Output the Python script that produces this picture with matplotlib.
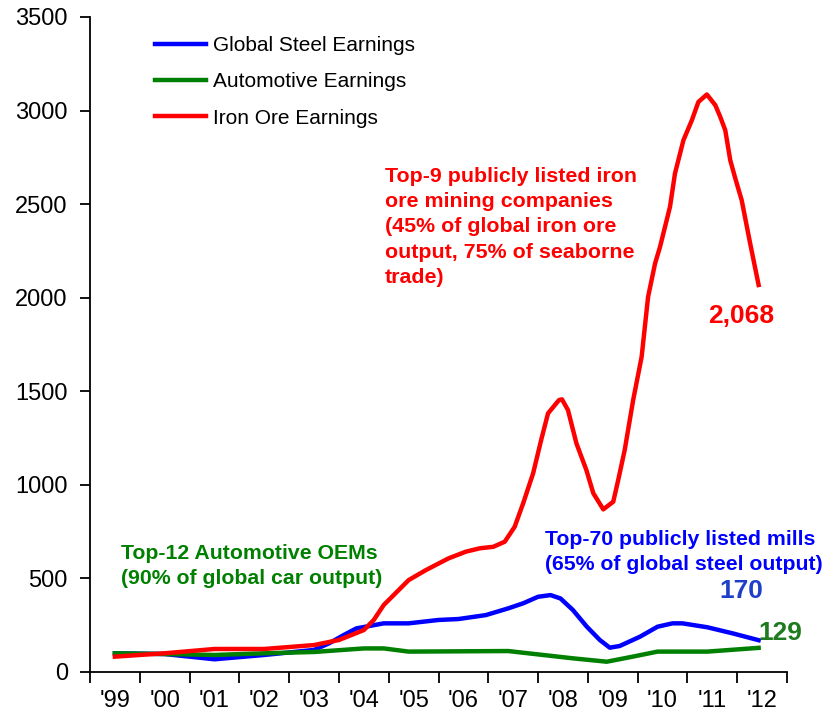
import matplotlib
matplotlib.use("Agg")
import matplotlib.pyplot as plt
from matplotlib.ticker import MultipleLocator, FixedLocator

plt.rcParams["font.family"] = ["Liberation Sans", "DejaVu Sans"]

# Time axis in fractional years (1999.5 = middle of 1999)
steel_t = [1999.5, 2000.5, 2001.5, 2002.5, 2003.5, 2003.8, 2004.1, 2004.35, 2004.9,
           2005.4, 2006.0, 2006.4, 2006.95, 2007.4, 2007.7, 2008.0, 2008.25, 2008.45,
           2008.7, 2008.98, 2009.24, 2009.44, 2009.64, 2010.05, 2010.4, 2010.7,
           2010.9, 2011.4, 2011.9, 2012.43]
steel_v = [100, 96, 68, 91, 118, 153, 198, 233, 260,
           260, 278, 283, 304, 340, 367, 402, 411, 393,
           331, 242, 171, 130, 139, 189, 242, 260,
           260, 239, 207, 170]

auto_t = [1999.5, 2000.5, 2001.5, 2002.5, 2003.5, 2004.5, 2004.9, 2005.4, 2007.4,
          2008.0, 2008.7, 2009.38, 2009.9, 2010.4, 2011.4, 2012.43]
auto_v = [100, 96, 91, 100, 107, 126, 126, 109, 112,
          94, 73, 55, 82, 109, 109, 129]

ore_t = [1999.5, 2000.5, 2001.5, 2002.5, 2003.5, 2004.0, 2004.5, 2004.7, 2004.9,
         2005.4, 2005.75, 2006.2, 2006.55, 2006.83, 2007.1, 2007.33, 2007.53, 2007.7,
         2007.9, 2008.07, 2008.2, 2008.42, 2008.48, 2008.6, 2008.77, 2008.97, 2009.11,
         2009.31, 2009.51, 2009.61, 2009.74, 2009.91, 2010.08, 2010.21, 2010.35,
         2010.45, 2010.65, 2010.75, 2010.92, 2011.09, 2011.22, 2011.39, 2011.56,
         2011.66, 2011.76, 2011.86, 2011.96, 2012.09, 2012.26, 2012.43]
ore_v = [82, 100, 123, 123, 144, 171, 224, 278, 358,
         491, 545, 607, 643, 661, 669, 696, 776, 901,
         1061, 1248, 1382, 1453, 1457, 1400, 1222, 1079, 955,
         869, 910, 1026, 1186, 1453, 1684, 2005, 2183,
         2272, 2486, 2664, 2842, 2949, 3046, 3086, 3029,
         2966, 2895, 2735, 2639, 2521, 2290, 2068]

years = list(range(1999, 2013))
year_labels = ["'99", "'00", "'01", "'02", "'03", "'04", "'05", "'06", "'07",
               "'08", "'09", "'10", "'11", "'12"]

fig = plt.figure(figsize=(8.28, 7.22), dpi=100)
ax = fig.add_axes([90 / 828, 50 / 722, 697 / 828, 655 / 722])

ax.plot(steel_t, steel_v, color="#0000FF", lw=3.2, label="Global Steel Earnings")
ax.plot(auto_t, auto_v, color="#008000", lw=3.2, label="Automotive Earnings")
ax.plot(ore_t, ore_v, color="#FF0000", lw=3.2, label="Iron Ore Earnings")

ax.set_xlim(1999, 2013)
ax.set_ylim(0, 3500)
ax.yaxis.set_major_locator(MultipleLocator(500))
ax.xaxis.set_major_locator(MultipleLocator(1))
ax.xaxis.set_major_formatter(plt.NullFormatter())
ax.xaxis.set_minor_locator(FixedLocator([y + 0.5 for y in years]))
ax.set_xticklabels(year_labels, minor=True)
ax.tick_params(axis="x", which="major", direction="out", length=8, width=1.3)
ax.tick_params(axis="x", which="minor", length=0, pad=13, labelsize=17)
ax.tick_params(axis="y", direction="out", length=7, width=1.3, labelsize=17, pad=9)
for s in ["top", "right"]:
    ax.spines[s].set_visible(False)
for s in ["left", "bottom"]:
    ax.spines[s].set_linewidth(1.3)

fig.legend(loc="upper left", bbox_to_anchor=(155 / 828, 1 - 36 / 722), frameon=False,
           fontsize=15, handlelength=2.45, handletextpad=0.35, labelspacing=0.83,
           borderpad=0, borderaxespad=0)

ax.text(2004.92, 2700,
        "Top-9 publicly listed iron\nore mining companies\n(45% of global iron ore\noutput, 75% of seaborne\ntrade)",
        color="#FF0000", fontsize=15.4, fontweight="bold", va="top", ha="left", linespacing=1.42)
ax.text(2008.13, 760, "Top-70 publicly listed mills\n(65% of global steel output)",
        color="#0000FF", fontsize=15.3, fontweight="bold", va="top", ha="left", linespacing=1.42)
ax.text(1999.62, 685, "Top-12 Automotive OEMs\n(90% of global car output)",
        color="#008000", fontsize=15.3, fontweight="bold", va="top", ha="left", linespacing=1.42)
ax.text(2012.08, 1902, "2,068", color="#FF0000", fontsize=19, fontweight="bold",
        ha="center", va="center")
ax.text(2012.08, 433, "170", color="#1F3FC8", fontsize=19, fontweight="bold",
        ha="center", va="center")
ax.text(2012.42, 210, "129", color="#1F7A1F", fontsize=19, fontweight="bold",
        ha="left", va="center")

fig.savefig("out.png", dpi=100)
